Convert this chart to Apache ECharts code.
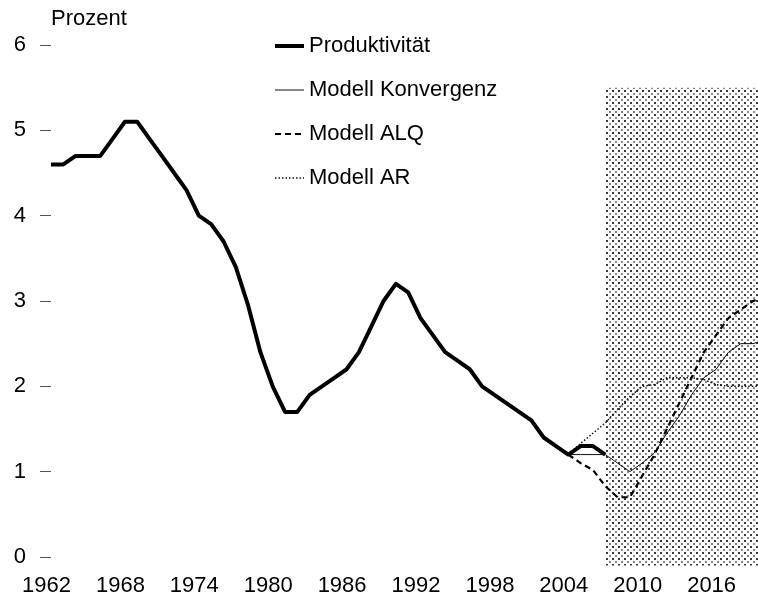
<!DOCTYPE html>
<html>
<head>
<meta charset="utf-8">
<script src="https://cdn.jsdelivr.net/npm/echarts@6/dist/echarts.min.js"></script>
<style>
html,body{margin:0;padding:0;background:#fff;}
#chart{width:758px;height:598px;}
</style>
</head>
<body>
<div id="chart"></div>
<script>
// ---- data ----
const prodYears = [1962,1963,1964,1965,1966,1967,1968,1969,1970,1971,1972,1973,1974,1975,1976,1977,1978,1979,1980,1981,1982,1983,1984,1985,1986,1987,1988,1989,1990,1991,1992,1993,1994,1995,1996,1997,1998,1999,2000,2001,2002,2003,2004,2005,2006,2007];
const produktivitaet = [4.6,4.6,4.7,4.7,4.7,4.9,5.1,5.1,4.9,4.7,4.5,4.3,4.0,3.9,3.7,3.4,2.95,2.4,2.0,1.7,1.7,1.9,2.0,2.1,2.2,2.4,2.7,3.0,3.2,3.1,2.8,2.6,2.4,2.3,2.2,2.0,1.9,1.8,1.7,1.6,1.4,1.3,1.2,1.3,1.3,1.2];
const modelYears = [2004,2005,2006,2007,2008,2009,2010,2011,2012,2013,2014,2015,2016,2017,2018,2019,2020];
const konvergenz = [1.2,1.2,1.2,1.2,1.1,1.0,1.1,1.22,1.45,1.65,1.9,2.1,2.2,2.4,2.5,2.5,2.55];
const alq = [1.2,1.1,1.02,0.83,0.7,0.7,0.95,1.2,1.5,1.8,2.1,2.4,2.6,2.8,2.9,3.0,3.05];
const ar = [1.2,1.33,1.45,1.57,1.73,1.88,2.0,2.02,2.1,2.1,2.1,2.08,2.02,2.0,2.0,2.0,2.0];
const xTickLabels = [1962,1968,1974,1980,1986,1992,1998,2004,2010,2016];
const yTickLabels = [0,1,2,3,4,5,6];
const shadeRange = {x0: 2007, x1: 2020, y0: -0.1, y1: 5.5};
const seriesNames = ['Produktivität','Modell Konvergenz','Modell ALQ','Modell AR'];

const pairs = (xs, ys) => xs.map((x, i) => [x, ys[i]]);

// dot pattern for forecast shading
const pat = document.createElement('canvas');
pat.width = 6; pat.height = 6;
const pc = pat.getContext('2d');
pc.fillStyle = '#fff'; pc.fillRect(0,0,6,6);
pc.fillStyle = '#3a3a3a'; pc.fillRect(0,0,2,2);
pc.fillStyle = '#8a8a8a'; pc.fillRect(3,3,2,2);

const FONT = 'Liberation Sans, Arial, sans-serif';
const chart = echarts.init(document.getElementById('chart'), null, {renderer: 'canvas'});
chart.setOption({
  animation: false,
  backgroundColor: '#fff',
  textStyle: {fontFamily: FONT, color: '#000'},
  grid: {left: 51, right: 0, top: 45, bottom: 32.5, containLabel: false},
  legend: {
    orient: 'vertical', left: 273, top: 35, padding: 0,
    itemWidth: 29, itemHeight: 14, itemGap: 22,
    itemStyle: {opacity: 0},
    lineStyle: {width: 'inherit'},
    textStyle: {fontFamily: FONT, fontSize: 22, color: '#000'},
    data: seriesNames
  },
  xAxis: {
    type: 'value', min: 1962, max: 2019.4,
    axisLine: {show: false}, axisTick: {show: false}, splitLine: {show: false},
    axisLabel: {customValues: xTickLabels, fontSize: 22, color: '#000', fontFamily: FONT,
      margin: 9, padding: [0, 9, 0, 0], formatter: v => String(v)}
  },
  yAxis: {
    type: 'value', min: -0.1, max: 6,
    name: 'Prozent', nameLocation: 'end', nameGap: 15,
    nameTextStyle: {fontSize: 22, color: '#000', fontFamily: FONT, align: 'left', verticalAlign: 'bottom'},
    axisLine: {show: false},
    axisTick: {show: true, customValues: yTickLabels, length: 11, lineStyle: {color: '#555', width: 1}},
    splitLine: {show: false},
    axisLabel: {customValues: yTickLabels, fontSize: 22, color: '#000', fontFamily: FONT, margin: 25}
  },
  series: [
    {
      name: 'shade', type: 'line', data: [], z: 1, silent: true,
      markArea: {silent: true, itemStyle: {color: {image: pat, repeat: 'repeat'}},
        data: [[{coord: [shadeRange.x0, shadeRange.y1]}, {coord: [shadeRange.x1, shadeRange.y0]}]]}
    },
    {name: seriesNames[0], type: 'line', data: pairs(prodYears, produktivitaet), symbol: 'none', z: 5,
      lineStyle: {color: '#000', width: 4, join: 'round'}, itemStyle: {color: '#000'}},
    {name: seriesNames[1], type: 'line', data: pairs(modelYears, konvergenz), symbol: 'none', z: 4,
      lineStyle: {color: '#111', width: 1}, itemStyle: {color: '#111'}},
    {name: seriesNames[2], type: 'line', data: pairs(modelYears, alq), symbol: 'none', z: 4,
      lineStyle: {color: '#000', width: 2.2, type: [6, 4]}, itemStyle: {color: '#000'}},
    {name: seriesNames[3], type: 'line', data: pairs(modelYears, ar), symbol: 'none', z: 4,
      lineStyle: {color: '#111', width: 1.5, type: [1.5, 2]}, itemStyle: {color: '#111'}}
  ]
});
</script>
</body>
</html>
